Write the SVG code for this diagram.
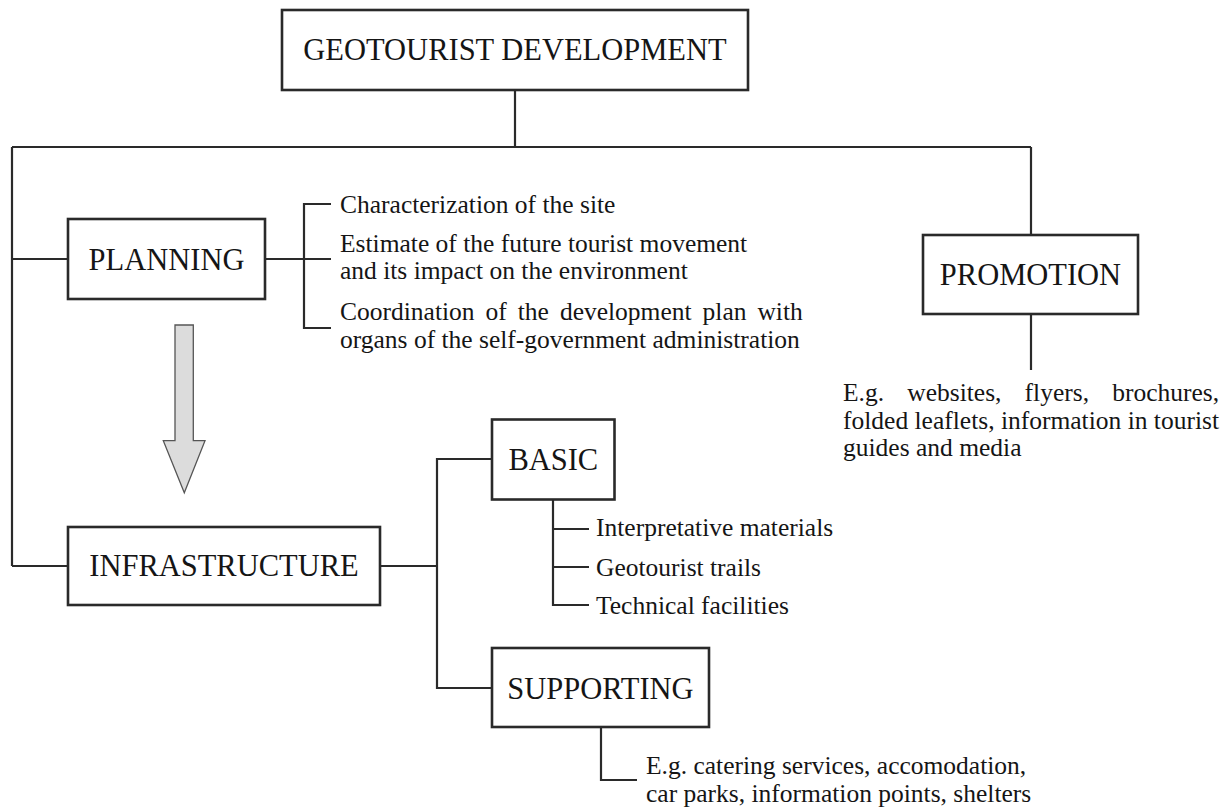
<svg xmlns="http://www.w3.org/2000/svg" width="1226" height="808" viewBox="0 0 1226 808">
<style>
.box{fill:#fff;stroke:#2a2a2a;stroke-width:2.6}
.ln{fill:none;stroke:#2a2a2a;stroke-width:2.2}
.lbl{font-family:"Liberation Serif","Times New Roman",serif;font-size:30.5px;fill:#151515;text-anchor:middle}
.txt{font-family:"Liberation Serif","Times New Roman",serif;font-size:25.5px;fill:#151515}
.arrow{fill:#dcdcdc;stroke:#555;stroke-width:1.3}
</style>
<rect width="1226" height="808" fill="#fff"/>
<g id="connectors">
<path class="ln" d="M515,90 V147 M12,147 H1031 M12,147 V566 M12,259 H68 M12,566 H68"/>
<path class="ln" d="M1031,147 V235 M1031,314 V370"/>
<path class="ln" d="M265,259 H331 M331,204 H304 V328 H331"/>
<path class="ln" d="M380,566 H437 M492,459 H437 V688 H492"/>
<path class="ln" d="M553,499 V605 H589 M553,529 H589 M553,567 H589"/>
<path class="ln" d="M601,727 V780 H637"/>
</g>
<g id="node-geotourist">
<rect class="box" x="282" y="10" width="466" height="80"/>
<text class="lbl" x="515" y="60">GEOTOURIST DEVELOPMENT</text>
</g>
<g id="node-planning">
<rect class="box" x="68" y="219" width="197" height="80"/>
<text class="lbl" x="166.5" y="270">PLANNING</text>
</g>
<g id="planning-items">
<text class="txt" x="340" y="212.5">Characterization of the site</text>
<text class="txt" x="340" y="251.5">Estimate of the future tourist movement</text>
<text class="txt" x="340" y="279">and its impact on the environment</text>
<text class="txt" x="340" y="320" word-spacing="4.6">Coordination of the development plan with</text>
<text class="txt" x="340" y="347.5">organs of the self-government administration</text>
</g>
<g id="flow-arrow">
<polygon class="arrow" points="175,325 193.3,325 193.3,440.7 205,440.7 184.3,492.7 163.3,440.7 175,440.7"/>
</g>
<g id="node-promotion">
<rect class="box" x="923" y="235" width="215" height="79"/>
<text class="lbl" x="1030.5" y="285">PROMOTION</text>
</g>
<g id="promotion-items">
<text class="txt" x="843" y="401" word-spacing="16.8">E.g. websites, flyers, brochures,</text>
<text class="txt" x="843" y="428.5">folded leaflets, information in tourist</text>
<text class="txt" x="843" y="456">guides and media</text>
</g>
<g id="node-infrastructure">
<rect class="box" x="68" y="527" width="312" height="78"/>
<text class="lbl" x="224" y="576">INFRASTRUCTURE</text>
</g>
<g id="node-basic">
<rect class="box" x="492" y="419.5" width="122.5" height="80"/>
<text class="lbl" x="553.3" y="470">BASIC</text>
</g>
<g id="basic-items">
<text class="txt" x="596" y="536">Interpretative materials</text>
<text class="txt" x="596" y="576">Geotourist trails</text>
<text class="txt" x="596" y="613.5">Technical facilities</text>
</g>
<g id="node-supporting">
<rect class="box" x="492" y="648" width="217" height="79"/>
<text class="lbl" x="600.5" y="698.5">SUPPORTING</text>
</g>
<g id="supporting-items">
<text class="txt" x="646" y="774">E.g. catering services, accomodation,</text>
<text class="txt" x="646" y="801.5">car parks, information points, shelters</text>
</g>
</svg>
